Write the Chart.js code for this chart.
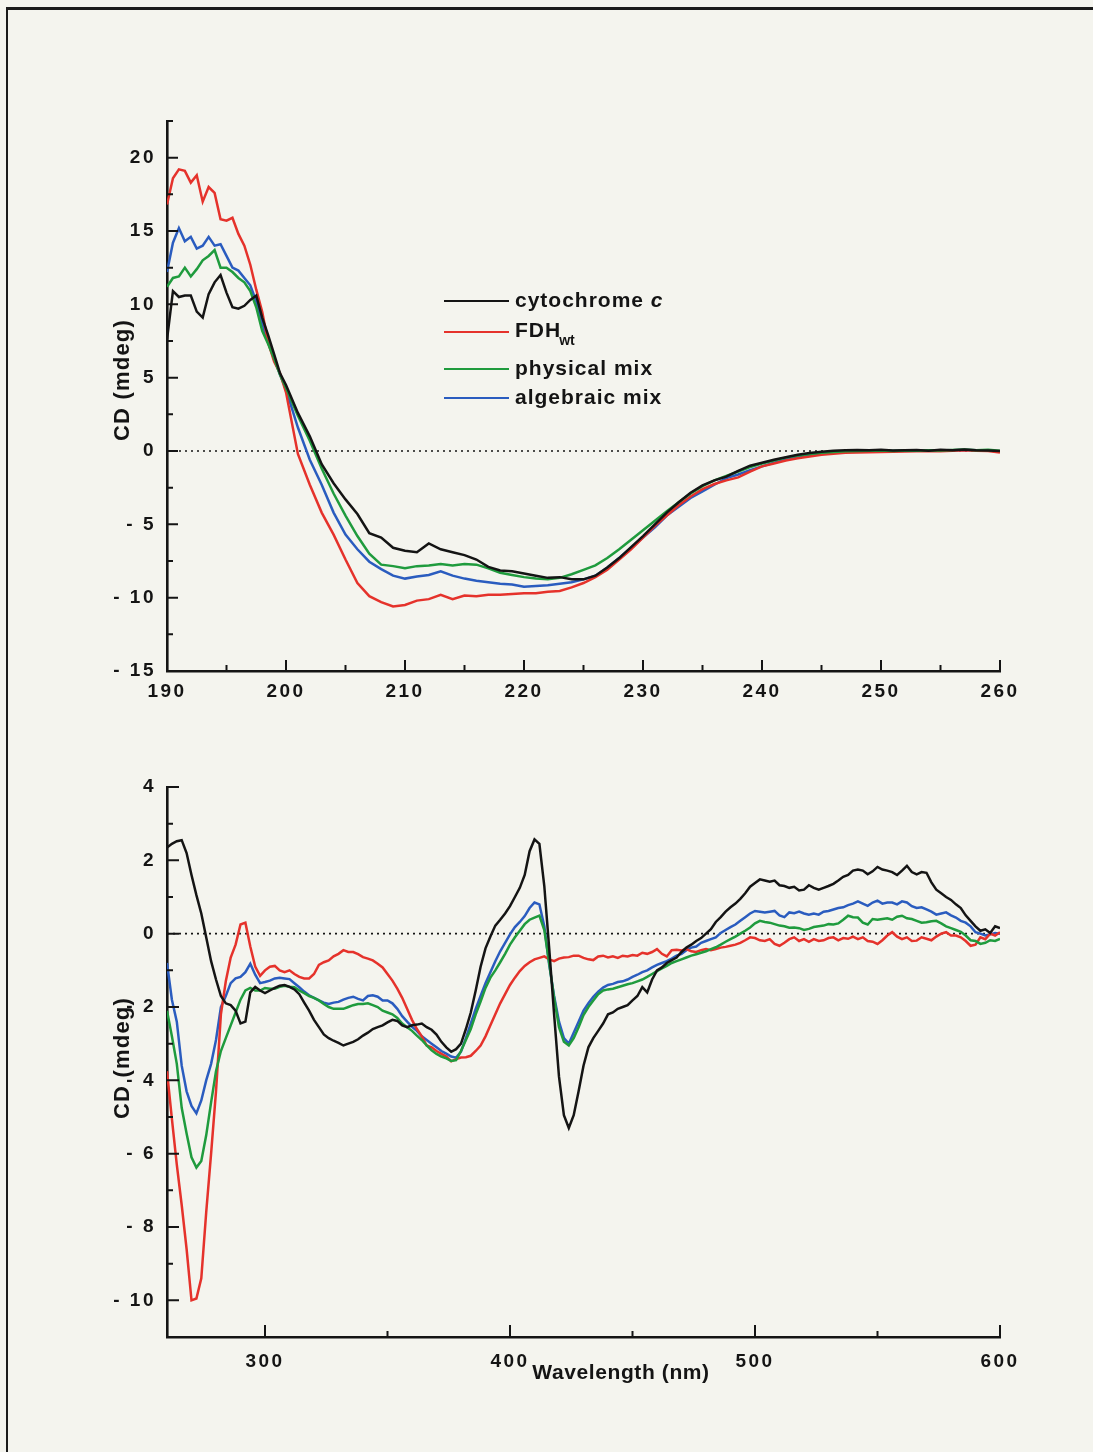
<!DOCTYPE html>
<html>
<head>
<meta charset="utf-8">
<title>CD spectra</title>
<script src="https://cdn.jsdelivr.net/npm/chart.js@4.4.1/dist/chart.umd.min.js"></script>
<style>
  html, body { margin: 0; padding: 0; background: #f4f4ee; }
  #page { position: relative; width: 1093px; height: 1452px; overflow: hidden; background: #f4f4ee; }
  #frame { position: absolute; left: 6px; top: 7px; width: 1200px; height: 1600px;
           border-top: 3px solid #1b1b1b; border-left: 2px solid #1b1b1b; }
  .panel { position: absolute; left: 0; width: 1093px; }
  canvas { display: block; }
</style>
</head>
<body>
<div id="page">
  <div id="frame"></div>
  <div class="panel" style="top:0;height:720px"><canvas id="farUV" width="1093" height="720"></canvas></div>
  <div class="panel" style="top:720px;height:732px"><canvas id="soret" width="1093" height="732"></canvas></div>
</div>
<script>
// ---------- far-UV spectra (190–260 nm) ----------
const farWavelength = [
  190, 190.5, 191, 191.5, 192, 192.5, 193, 193.5, 194, 194.5, 195, 195.5, 196, 196.5, 197, 197.5, 198, 198.5, 199, 199.5, 200,
  201, 202, 203, 204, 205, 206, 207, 208, 209, 210,
  211, 212, 213, 214, 215, 216, 217, 218, 219, 220,
  221, 222, 223, 224, 225, 226, 227, 228, 229, 230,
  231, 232, 233, 234, 235, 236, 237, 238, 239, 240,
  241, 242, 243, 244, 245, 246, 247, 248, 249, 250,
  251, 252, 253, 254, 255, 256, 257, 258, 259, 260
];
const farCytochrome = [
  7.6, 10.9, 10.5, 10.6, 10.6, 9.5, 9.1, 10.7, 11.5, 12.0, 10.8, 9.8, 9.7, 9.9, 10.3, 10.6, 9.1, 7.9, 6.6, 5.3, 4.5,
  2.6, 1.0, -0.9, -2.2, -3.3, -4.3, -5.6, -5.9, -6.6, -6.8,
  -6.9, -6.3, -6.7, -6.9, -7.1, -7.4, -7.9, -8.15, -8.2, -8.35,
  -8.5, -8.65, -8.6, -8.75, -8.75, -8.5, -7.95, -7.3, -6.55, -5.8,
  -5.0, -4.2, -3.5, -2.85, -2.35, -2.0, -1.75, -1.35, -1.0, -0.8,
  -0.6, -0.42, -0.25, -0.14, -0.05, 0.02, 0.05, 0.07, 0.05, 0.08,
  0.03, 0.05, 0.06, 0.02, 0.08, 0.05, 0.1, 0.05, 0.04, 0.0
];
const farFdh = [
  16.8, 18.6, 19.2, 19.1, 18.3, 18.8, 17.0, 18.0, 17.6, 15.8, 15.7, 15.9, 14.8, 14.0, 12.7, 11.0, 9.5, 7.4, 6.1, 5.3, 4.0,
  -0.2, -2.3, -4.2, -5.7, -7.4, -9.0, -9.9, -10.3, -10.6, -10.5,
  -10.2, -10.1, -9.8, -10.1, -9.85, -9.9, -9.8, -9.8, -9.75, -9.7,
  -9.7, -9.6, -9.55, -9.3, -9.0, -8.6, -8.1, -7.4, -6.7, -5.9,
  -5.1, -4.4, -3.7, -3.1, -2.6, -2.25, -2.0, -1.8, -1.4, -1.05,
  -0.85, -0.65, -0.5, -0.38, -0.25, -0.18, -0.12, -0.1, -0.08, -0.06,
  -0.05, -0.03, -0.02, 0.0, -0.02, 0.02, 0.05, 0.02, 0.0, -0.1
];
const farPhysical = [
  11.2, 11.8, 11.9, 12.5, 11.9, 12.4, 13.0, 13.3, 13.7, 12.5, 12.5, 12.2, 11.8, 11.5, 10.9, 9.8, 8.2, 7.3, 6.3, 5.2, 4.3,
  2.4, 0.7, -1.2, -2.9, -4.4, -5.8, -7.0, -7.75, -7.85, -8.0,
  -7.85, -7.8, -7.7, -7.8, -7.7, -7.75, -8.0, -8.3, -8.45, -8.6,
  -8.7, -8.75, -8.65, -8.4, -8.1, -7.8, -7.3, -6.7, -6.05, -5.4,
  -4.75, -4.1, -3.5, -2.9, -2.4, -2.0, -1.7, -1.4, -1.1, -0.85,
  -0.65, -0.45, -0.3, -0.2, -0.12, -0.06, -0.02, 0.0, 0.02, 0.03,
  0.0, 0.04, 0.02, 0.05, 0.03, 0.06, 0.1, 0.05, 0.08, 0.02
];
const farAlgebraic = [
  12.2, 14.2, 15.2, 14.3, 14.6, 13.8, 14.0, 14.6, 14.0, 14.1, 13.3, 12.5, 12.3, 11.8, 11.3, 10.2, 8.7, 7.4, 6.3, 5.2, 4.2,
  1.6, -0.6, -2.3, -4.2, -5.7, -6.7, -7.55, -8.05, -8.5, -8.7,
  -8.55, -8.45, -8.2, -8.5, -8.7, -8.85, -8.95, -9.05, -9.1, -9.25,
  -9.2, -9.15, -9.05, -8.95, -8.75, -8.5, -7.95, -7.3, -6.6, -5.9,
  -5.2, -4.4, -3.8, -3.2, -2.75, -2.3, -1.85, -1.6, -1.3, -1.05,
  -0.8, -0.6, -0.42, -0.28, -0.15, -0.08, -0.04, -0.02, 0.0, 0.02,
  0.0, 0.02, 0.03, 0.01, 0.04, 0.05, 0.07, 0.05, 0.05, -0.05
];

// ---------- near-UV / Soret / visible spectra (260–600 nm) ----------
const nearWavelength = [
  260, 262, 264, 266, 268, 270, 272, 274, 276, 278,
  280, 282, 284, 286, 288, 290, 292, 294, 296, 298,
  300, 302, 304, 306, 308, 310, 312, 314, 316, 318,
  320, 322, 324, 326, 328, 330, 332, 334, 336, 338,
  340, 342, 344, 346, 348, 350, 352, 354, 356, 358,
  360, 362, 364, 366, 368, 370, 372, 374, 376, 378,
  380, 382, 384, 386, 388, 390, 392, 394, 396, 398,
  400, 402, 404, 406, 408, 410, 412, 414, 416, 418,
  420, 422, 424, 426, 428, 430, 432, 434, 436, 438,
  440, 442, 444, 446, 448, 450, 452, 454, 456, 458,
  460, 462, 464, 466, 468, 470, 472, 474, 476, 478,
  480, 482, 484, 486, 488, 490, 492, 494, 496, 498,
  500, 502, 504, 506, 508, 510, 512, 514, 516, 518,
  520, 522, 524, 526, 528, 530, 532, 534, 536, 538,
  540, 542, 544, 546, 548, 550, 552, 554, 556, 558,
  560, 562, 564, 566, 568, 570, 572, 574, 576, 578,
  580, 582, 584, 586, 588, 590, 592, 594, 596, 598,
  600
];
const nearCytochrome = [
  2.35, 2.45, 2.52, 2.55, 2.2, 1.6, 1.05, 0.55, -0.1, -0.75,
  -1.25, -1.7, -1.9, -1.95, -2.1, -2.45, -2.4, -1.6, -1.45, -1.55,
  -1.62, -1.55, -1.48, -1.42, -1.4, -1.45, -1.52, -1.65, -1.88, -2.1,
  -2.35, -2.55, -2.75, -2.85, -2.92, -2.98, -3.05, -3.0, -2.95, -2.88,
  -2.78, -2.7, -2.6, -2.55, -2.5, -2.42, -2.35, -2.38, -2.5, -2.55,
  -2.5, -2.48, -2.45, -2.55, -2.62, -2.75, -2.95, -3.1, -3.22, -3.15,
  -3.0, -2.6, -2.15, -1.55, -0.9, -0.4, -0.08, 0.22, 0.38, 0.55,
  0.75, 1.0, 1.25, 1.6, 2.25, 2.57, 2.45, 1.3, -0.4, -2.2,
  -3.9, -4.95, -5.3, -4.95, -4.3, -3.6, -3.1, -2.85, -2.65, -2.45,
  -2.2, -2.15, -2.05, -2.0, -1.95, -1.82, -1.7, -1.46, -1.6, -1.25,
  -1.0, -0.92, -0.8, -0.72, -0.65, -0.5, -0.38, -0.3, -0.2, -0.12,
  0.0, 0.12, 0.32, 0.45, 0.6, 0.72, 0.82, 0.95, 1.1, 1.28,
  1.38, 1.48, 1.45, 1.42, 1.45, 1.32, 1.3, 1.25, 1.28, 1.18,
  1.2, 1.32, 1.25, 1.2, 1.25, 1.3, 1.36, 1.45, 1.55, 1.6,
  1.72, 1.75, 1.72, 1.62, 1.7, 1.82, 1.75, 1.72, 1.68, 1.6,
  1.72, 1.85, 1.68, 1.62, 1.68, 1.66, 1.4, 1.2, 1.1, 1.0,
  0.92, 0.8, 0.7, 0.5, 0.35, 0.2, 0.08, 0.12, 0.02, 0.2,
  0.15
];
const nearFdh = [
  -3.75, -5.05, -6.3, -7.4, -8.6, -10.0, -9.95, -9.4, -7.6, -6.0,
  -4.3, -2.2, -1.3, -0.65, -0.3, 0.25, 0.3, -0.35, -0.9, -1.15,
  -1.0, -0.9, -0.88, -1.0, -1.05, -1.0, -1.1, -1.18, -1.22, -1.22,
  -1.1, -0.85, -0.78, -0.73, -0.62, -0.55, -0.45, -0.5, -0.5, -0.56,
  -0.64, -0.68, -0.73, -0.82, -0.92, -1.1, -1.28, -1.5, -1.75, -2.05,
  -2.35, -2.6, -2.8, -3.05, -3.1, -3.2, -3.28, -3.35, -3.48, -3.42,
  -3.38, -3.37, -3.33, -3.2, -3.05, -2.8, -2.5, -2.2, -1.9, -1.65,
  -1.4, -1.2, -1.02, -0.88, -0.78, -0.7, -0.66, -0.62, -0.7, -0.75,
  -0.68, -0.65, -0.64, -0.6, -0.6, -0.66, -0.7, -0.72, -0.62, -0.6,
  -0.65, -0.62, -0.66, -0.6, -0.62, -0.58, -0.6, -0.52, -0.55, -0.5,
  -0.42, -0.55, -0.62, -0.45, -0.44, -0.46, -0.42, -0.48, -0.5, -0.45,
  -0.42, -0.45, -0.42, -0.38, -0.36, -0.33, -0.3, -0.25, -0.18, -0.1,
  -0.12, -0.18, -0.2, -0.15, -0.28, -0.33, -0.25, -0.15, -0.1, -0.2,
  -0.15, -0.22, -0.15, -0.2, -0.18, -0.12, -0.1, -0.18, -0.12, -0.14,
  -0.08, -0.15, -0.1, -0.2, -0.22, -0.28, -0.18, -0.05, 0.04, -0.08,
  -0.15, -0.1, -0.2, -0.19, -0.1, -0.14, -0.18, -0.08, 0.0, 0.04,
  -0.05, -0.05, -0.1, -0.2, -0.33, -0.3, -0.1, -0.15, 0.0, -0.05,
  0.04
];
const nearPhysical = [
  -2.1, -2.8, -3.55, -4.75, -5.45, -6.1, -6.38, -6.2, -5.5, -4.6,
  -3.75, -3.2, -2.85, -2.5, -2.15, -1.8, -1.55, -1.48, -1.55, -1.55,
  -1.48, -1.5, -1.5, -1.45, -1.42, -1.45, -1.46, -1.55, -1.62, -1.7,
  -1.75, -1.82, -1.92, -2.0, -2.05, -2.05, -2.05, -2.0, -1.95, -1.92,
  -1.92, -1.9, -1.95, -2.0, -2.1, -2.15, -2.2, -2.3, -2.45, -2.55,
  -2.65, -2.78, -2.9, -3.05, -3.18, -3.28, -3.35, -3.4, -3.47, -3.45,
  -3.2, -2.9, -2.6, -2.2, -1.85, -1.48, -1.2, -1.0, -0.78, -0.55,
  -0.3, -0.1, 0.08, 0.26, 0.38, 0.44, 0.49, 0.1, -0.8, -1.75,
  -2.55, -2.95, -3.05, -2.85, -2.55, -2.22, -2.0, -1.82, -1.65, -1.55,
  -1.52, -1.5, -1.46, -1.42, -1.38, -1.35, -1.3, -1.25, -1.18, -1.1,
  -1.02, -0.95, -0.88, -0.8, -0.75, -0.7, -0.65, -0.6, -0.56, -0.52,
  -0.48, -0.42, -0.37, -0.3, -0.22, -0.15, -0.08, 0.0, 0.08, 0.17,
  0.28, 0.35, 0.32, 0.3, 0.26, 0.22, 0.2, 0.16, 0.17, 0.15,
  0.1, 0.13, 0.18, 0.2, 0.22, 0.26, 0.25, 0.28, 0.38, 0.49,
  0.45, 0.44, 0.3, 0.25, 0.4, 0.38, 0.4, 0.42, 0.38, 0.46,
  0.49, 0.42, 0.4, 0.35, 0.3, 0.31, 0.34, 0.35, 0.28, 0.2,
  0.15, 0.1, 0.05, -0.05, -0.18, -0.2, -0.28, -0.25, -0.18, -0.2,
  -0.14
];
const nearAlgebraic = [
  -0.8, -1.8, -2.4, -3.6, -4.3, -4.7, -4.9, -4.55, -4.0, -3.55,
  -2.9, -2.0, -1.7, -1.35, -1.22, -1.18, -1.05, -0.82, -1.12, -1.35,
  -1.32, -1.28, -1.22, -1.2, -1.22, -1.24, -1.35, -1.46, -1.58, -1.68,
  -1.75, -1.82, -1.88, -1.92, -1.88, -1.86, -1.8, -1.75, -1.72, -1.78,
  -1.82, -1.7, -1.68, -1.72, -1.82, -1.82, -1.9, -2.05, -2.25, -2.4,
  -2.54, -2.65, -2.8, -2.9, -3.0, -3.1, -3.2, -3.27, -3.35, -3.38,
  -3.22, -2.85, -2.45, -2.05, -1.7, -1.35, -1.05, -0.75, -0.48, -0.25,
  -0.02, 0.18, 0.32, 0.48, 0.7, 0.85, 0.8, 0.2, -0.85, -1.7,
  -2.4, -2.85, -3.0, -2.7, -2.4, -2.1, -1.9, -1.72, -1.58, -1.47,
  -1.4, -1.37, -1.32, -1.3, -1.25, -1.18, -1.12, -1.05, -1.0, -0.92,
  -0.85, -0.8, -0.75, -0.68, -0.6, -0.55, -0.45, -0.38, -0.35, -0.25,
  -0.2, -0.15, -0.1, 0.02, 0.1, 0.18, 0.25, 0.35, 0.45, 0.55,
  0.62, 0.6, 0.58, 0.6, 0.62, 0.5, 0.45, 0.58, 0.56, 0.6,
  0.55, 0.52, 0.55, 0.52, 0.6, 0.62, 0.66, 0.7, 0.72, 0.78,
  0.82, 0.88, 0.82, 0.76, 0.85, 0.9, 0.82, 0.85, 0.85, 0.8,
  0.88, 0.85, 0.75, 0.7, 0.72, 0.66, 0.6, 0.52, 0.55, 0.58,
  0.5, 0.44, 0.35, 0.3, 0.2, 0.04, 0.0, -0.05, -0.02, 0.02,
  0.0
];

// axis tick labels
const farXTicks = [190, 200, 210, 220, 230, 240, 250, 260];
const farYTicks = [-15, -10, -5, 0, 5, 10, 15, 20];
const nearXTicks = [300, 400, 500, 600];
const nearYTicks = [-10, -8, -6, -4, -2, 0, 2, 4];

const seriesNames = ['cytochrome c', 'FDHwt', 'physical mix', 'algebraic mix'];

// ---------- drawing ----------
const INK = '#141414';
const FONT = "'Liberation Sans', Arial, Helvetica, sans-serif";
const lineColors = ['#141414', '#e5322b', '#1f9b3d', '#2a5cbf'];

Chart.defaults.font.family = FONT;
Chart.defaults.color = INK;

const points = (xs, ys) => xs.map((x, i) => ({ x, y: ys[i] }));

function spectrumSets(xs, list) {
  const sets = list.map((ys, i) => ({
    label: seriesNames[i],
    data: points(xs, ys),
    borderColor: lineColors[i],
    borderWidth: 2.5,
    pointRadius: 0,
    tension: 0,
    fill: false,
    order: [1, 3, 2, 4][i]
  }));
  // zero reference
  sets.push({
    label: 'zero',
    data: [{ x: xs[0], y: 0 }, { x: xs[xs.length - 1], y: 0 }],
    borderColor: INK,
    borderWidth: 1.6,
    borderDash: [2, 4],
    pointRadius: 0,
    order: 9
  });
  return sets;
}

const fmt = v => (v < 0 ? '- ' + Math.abs(v) : String(v));
const isMult = (v, m) => Math.abs(v / m - Math.round(v / m)) < 1e-6;

// inward ticks, axis titles and the key
const axisDecor = {
  id: 'axisDecor',
  beforeDraw(chart) { chart.ctx.letterSpacing = '2.5px'; },
  afterDraw(chart, _args, o) {
    const ctx = chart.ctx, ca = chart.chartArea;
    const xs = chart.scales.x, ys = chart.scales.y;
    ctx.save();
    ctx.letterSpacing = '0px';
    ctx.strokeStyle = INK;
    ctx.lineWidth = 2;
    ctx.beginPath();
    for (let k = Math.ceil(xs.min / o.xMinor - 1e-9); k * o.xMinor <= xs.max + 1e-9; k++) {
      const v = k * o.xMinor, p = xs.getPixelForValue(v);
      const len = isMult(v, o.xMajor) ? o.majorLen : o.minorLen;
      ctx.moveTo(p, ca.bottom); ctx.lineTo(p, ca.bottom - len);
    }
    for (let k = Math.ceil(ys.min / o.yMinor - 1e-9); k * o.yMinor <= ys.max + 1e-9; k++) {
      const v = k * o.yMinor, p = ys.getPixelForValue(v);
      const len = isMult(v, o.yMajor) ? o.majorLen : o.minorLen;
      ctx.moveTo(ca.left, p); ctx.lineTo(ca.left + len, p);
    }
    ctx.stroke();

    ctx.fillStyle = INK;
    ctx.textAlign = 'center';
    ctx.textBaseline = 'middle';
    if (o.yTitle) {
      ctx.save();
      ctx.translate(o.yTitle.x, o.yTitle.y);
      ctx.rotate(-Math.PI / 2);
      ctx.font = 'bold 22px ' + FONT;
      ctx.letterSpacing = '1.2px';
      ctx.fillText(o.yTitle.text, 0, 0);
      ctx.restore();
    }
    if (o.xTitle) {
      ctx.font = 'bold 21px ' + FONT;
      ctx.letterSpacing = '0.6px';
      ctx.fillText(o.xTitle.text, o.xTitle.x, o.xTitle.y);
      ctx.letterSpacing = '0px';
    }
    if (o.key) {
      const k = o.key;
      ctx.textAlign = 'left';
      k.rows.forEach((row, i) => {
        ctx.strokeStyle = lineColors[i];
        ctx.lineWidth = 2;
        ctx.beginPath();
        ctx.moveTo(k.x0, row); ctx.lineTo(k.x1, row);
        ctx.stroke();
        let x = k.tx;
        ctx.letterSpacing = '1px';
        const name = seriesNames[i];
        if (i === 0) {
          ctx.font = 'bold 21px ' + FONT;
          ctx.fillText('cytochrome ', x, row);
          x += ctx.measureText('cytochrome ').width;
          ctx.font = 'italic bold 21px ' + FONT;
          ctx.fillText('c', x, row);
        } else if (i === 1) {
          ctx.font = 'bold 21px ' + FONT;
          ctx.fillText('FDH', x, row - 1);
          x += ctx.measureText('FDH').width - 2;
          ctx.letterSpacing = '0px';
          ctx.font = 'bold 14px ' + FONT;
          ctx.fillText('wt', x, row + 9);
        } else {
          ctx.font = 'bold 21px ' + FONT;
          ctx.fillText(name, x, row);
        }
      });
    }
    ctx.restore();
  }
};

function makeChart(id, cfg) {
  return new Chart(document.getElementById(id), {
    type: 'line',
    data: { datasets: spectrumSets(cfg.xs, cfg.series) },
    options: {
      responsive: false,
      animation: false,
      events: [],
      layout: { padding: cfg.padding },
      plugins: { legend: { display: false }, tooltip: { enabled: false }, axisDecor: cfg.decor },
      scales: {
        x: {
          type: 'linear', min: cfg.xMin, max: cfg.xMax, bounds: 'data',
          afterFit: s => { s.height = cfg.xHeight; },
          afterBuildTicks: s => { s.ticks = cfg.xTicks.map(v => ({ value: v })); },
          ticks: { font: { size: 19, weight: 'bold' }, color: INK, padding: cfg.xPad, maxRotation: 0, autoSkip: false, callback: fmt },
          grid: { drawOnChartArea: false, drawTicks: false },
          border: { display: true, color: INK, width: 2.6 }
        },
        y: {
          type: 'linear', min: cfg.yMin, max: cfg.yMax, bounds: 'data',
          afterFit: s => { s.width = 167; },
          afterBuildTicks: s => { s.ticks = cfg.yTicks.map(v => ({ value: v })); },
          ticks: { font: { size: 19, weight: 'bold' }, color: INK, padding: 11, autoSkip: false, callback: fmt },
          grid: { drawOnChartArea: false, drawTicks: false },
          border: { display: true, color: INK, width: 2.6 }
        }
      }
    },
    plugins: [axisDecor]
  });
}

makeChart('farUV', {
  xs: farWavelength,
  series: [farCytochrome, farFdh, farPhysical, farAlgebraic],
  xMin: 190, xMax: 260, yMin: -15, yMax: 22.5,
  xTicks: farXTicks, yTicks: farYTicks,
  padding: { left: 0, right: 93, top: 121, bottom: 0 },
  xHeight: 49, xPad: 9,
  decor: {
    xMinor: 5, xMajor: 10, yMinor: 2.5, yMajor: 5, majorLen: 11, minorLen: 6,
    yTitle: { text: 'CD (mdeg)', x: 123, y: 380 },
    key: { x0: 444, x1: 509, tx: 515, rows: [301, 332, 369, 398] }
  }
});

makeChart('soret', {
  xs: nearWavelength,
  series: [nearCytochrome, nearFdh, nearPhysical, nearAlgebraic],
  xMin: 260, xMax: 600, yMin: -11, yMax: 4,
  xTicks: nearXTicks, yTicks: nearYTicks,
  padding: { left: 0, right: 93, top: 67, bottom: 0 },
  xHeight: 115, xPad: 13,
  decor: {
    xMinor: 50, xMajor: 100, yMinor: 1, yMajor: 2, majorLen: 12, minorLen: 6,
    yTitle: { text: 'CD (mdeg)', x: 123, y: 338 },
    xTitle: { text: 'Wavelength (nm)', x: 621, y: 653 }
  }
});
</script>
</body>
</html>
